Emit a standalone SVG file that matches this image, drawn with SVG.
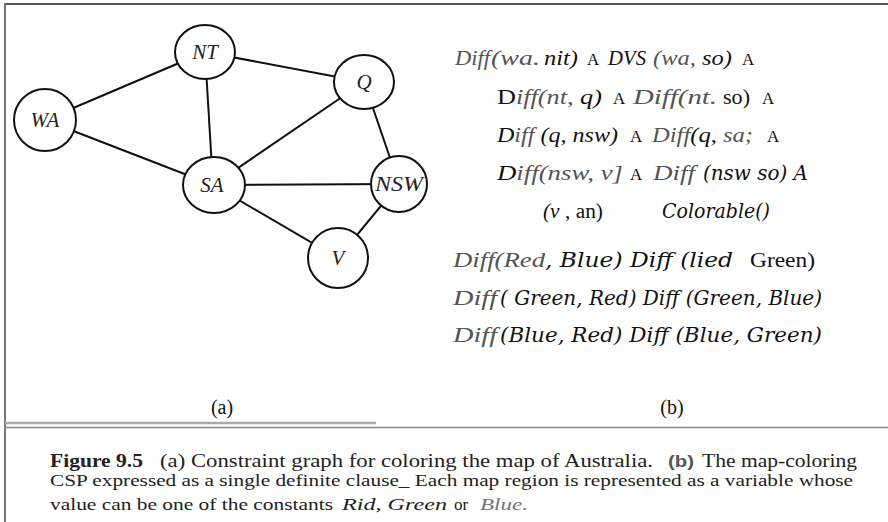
<svg xmlns="http://www.w3.org/2000/svg" width="888" height="522" viewBox="0 0 888 522">
<style>
.edge{stroke:#111;stroke-width:2;fill:none}
.node ellipse{fill:#fff;stroke:#111;stroke-width:2}
.lbl{font-family:"Liberation Serif",serif;font-style:italic;font-size:21px;fill:#222;text-anchor:middle}
.s{font-family:"Liberation Serif",serif;fill:#111}
.i{font-style:italic}
.g{fill:#555}
.w{font-family:"DejaVu Serif","Liberation Serif",serif;font-style:italic;fill:#111}
.f20{font-size:20px}
.f21{font-size:21px}
.f17{font-size:17px}
.cap{font-family:"Liberation Serif",serif;fill:#222}
</style>
<rect width="888" height="522" fill="#fff"/>
<g id="frame">
<line x1="5" y1="4" x2="888" y2="4" stroke="#555" stroke-width="2"/>
<line x1="5" y1="3" x2="5" y2="522" stroke="#777" stroke-width="2"/>
<line x1="5" y1="423" x2="376" y2="423" stroke="#aaa" stroke-width="2.5"/>
<line x1="5" y1="427.5" x2="888" y2="427.5" stroke="#888" stroke-width="1.5"/>
</g>
<g id="connectors">
<line class="edge" x1="45" y1="120" x2="205" y2="52"/>
<line class="edge" x1="45" y1="120" x2="213" y2="185"/>
<line class="edge" x1="205" y1="52" x2="213" y2="185"/>
<line class="edge" x1="205" y1="52" x2="364" y2="82"/>
<line class="edge" x1="213" y1="185" x2="364" y2="82"/>
<line class="edge" x1="213" y1="185" x2="399" y2="184"/>
<line class="edge" x1="213" y1="185" x2="338" y2="258"/>
<line class="edge" x1="364" y1="82" x2="399" y2="184"/>
<line class="edge" x1="399" y1="184" x2="338" y2="258"/>
</g>
<g id="node-NT" class="node"><ellipse cx="205" cy="52" rx="30" ry="27"/><text class="lbl" x="205" y="59">NT</text></g>
<g id="node-Q" class="node"><ellipse cx="364" cy="82" rx="30" ry="27"/><text class="lbl" x="364" y="89">Q</text></g>
<g id="node-WA" class="node"><ellipse cx="45" cy="120" rx="31" ry="31"/><text class="lbl" x="45" y="127">WA</text></g>
<g id="node-SA" class="node"><ellipse cx="214" cy="185" rx="31" ry="28"/><text class="lbl" x="212" y="192">SA</text></g>
<g id="node-NSW" class="node"><ellipse cx="399" cy="184" rx="28" ry="28"/><text class="lbl" x="399" y="191" textLength="48" lengthAdjust="spacingAndGlyphs" style="font-size:20px">NSW</text></g>
<g id="node-V" class="node"><ellipse cx="338" cy="258" rx="30" ry="30"/><text class="lbl" x="338" y="265">V</text></g>

<g id="clause">
<text class="s i g f21" x="455" y="65" textLength="35" lengthAdjust="spacingAndGlyphs">Diff</text>
<text class="s i g f21" x="491" y="65" textLength="49" lengthAdjust="spacingAndGlyphs">(wa.</text>
<text class="s i f20" x="544" y="65" textLength="34" lengthAdjust="spacingAndGlyphs">nit)</text>
<text class="s f17" x="587" y="65">A</text>
<text class="s i f21" x="608" y="65" textLength="38" lengthAdjust="spacingAndGlyphs">DVS</text>
<text class="s i f21" x="653" y="65" textLength="79" lengthAdjust="spacingAndGlyphs"><tspan class="g">(wa,</tspan> so)</text>
<text class="s f17" x="742" y="65">A</text>

<text class="s f21" x="497" y="104" textLength="105" lengthAdjust="spacingAndGlyphs">D<tspan class="i g">iff(nt,</tspan><tspan class="i"> q)</tspan></text>
<text class="s f17" x="613" y="104">A</text>
<text class="s i g f21" x="633" y="104" textLength="84" lengthAdjust="spacingAndGlyphs">Diff(nt.</text>
<text class="s f20" x="723" y="104" textLength="27" lengthAdjust="spacingAndGlyphs">so)</text>
<text class="s f17" x="762" y="104">A</text>

<text class="s i f21" x="497" y="142" textLength="121" lengthAdjust="spacingAndGlyphs">D<tspan class="g">iff</tspan> (q, nsw)</text>
<text class="s f17" x="630" y="142">A</text>
<text class="s i f21" x="652" y="142" textLength="101" lengthAdjust="spacingAndGlyphs"><tspan class="g">Diff</tspan>(q, <tspan class="g">sa;</tspan></text>
<text class="s f17" x="767" y="142">A</text>

<text class="s i f21" x="497" y="180" textLength="126" lengthAdjust="spacingAndGlyphs">D<tspan class="g">iff(nsw, v]</tspan></text>
<text class="s f17" x="630" y="180">A</text>
<text class="s i g f21" x="653" y="180" textLength="42" lengthAdjust="spacingAndGlyphs">Diff</text>
<text class="w f20" x="703" y="180" textLength="105" lengthAdjust="spacingAndGlyphs">(nsw so) A</text>

<text class="s f20" x="543" y="218" textLength="60" lengthAdjust="spacingAndGlyphs"><tspan class="i">(v</tspan> , an)</text>
<text class="w f20" x="662" y="218" textLength="108" lengthAdjust="spacingAndGlyphs">Colorable()</text>

<text class="s i g f21" x="453" y="267" textLength="92" lengthAdjust="spacingAndGlyphs">Diff(Red</text>
<text class="w f20" x="545" y="267" textLength="188" lengthAdjust="spacingAndGlyphs">, Blue) Diff (lied</text>
<text class="s f20" x="750" y="267" textLength="65" lengthAdjust="spacingAndGlyphs">Green)</text>

<text class="s i g f21" x="453" y="305" textLength="44" lengthAdjust="spacingAndGlyphs">Diff</text>
<text class="w f20" x="500" y="305" textLength="322" lengthAdjust="spacingAndGlyphs">( Green, Red) Diff (Green, Blue)</text>

<text class="s i g f21" x="453" y="342" textLength="44" lengthAdjust="spacingAndGlyphs">Diff</text>
<text class="w f20" x="500" y="342" textLength="322" lengthAdjust="spacingAndGlyphs">(Blue, Red) Diff (Blue, Green)</text>
</g>

<text class="s f20" x="222" y="414" text-anchor="middle">(a)</text>
<text class="s f20" x="672" y="414" text-anchor="middle">(b)</text>

<g id="caption">
<text class="cap" x="50" y="467" style="font-size:19px;font-weight:bold" textLength="93" lengthAdjust="spacingAndGlyphs">Figure 9.5</text>
<text class="cap" x="160" y="467" style="font-size:19px" textLength="493" lengthAdjust="spacingAndGlyphs">(a) Constraint graph for coloring the map of Australia.</text>
<text x="668" y="467" style="font-family:'Liberation Sans',sans-serif;font-size:16px;font-weight:bold;fill:#555" textLength="26" lengthAdjust="spacingAndGlyphs">(b)</text>
<text class="cap" x="702" y="467" style="font-size:19px" textLength="155" lengthAdjust="spacingAndGlyphs">The map-coloring</text>
<text class="cap" x="50" y="486" style="font-size:17px" textLength="803" lengthAdjust="spacingAndGlyphs">CSP expressed as a single definite clause_ Each map region is represented as a variable whose</text>
<text class="cap" x="50" y="510" style="font-size:17px" textLength="283" lengthAdjust="spacingAndGlyphs">value can be one of the constants</text>
<text class="cap" x="342" y="510" style="font-size:17px;font-style:italic" textLength="105" lengthAdjust="spacingAndGlyphs">Rid, Green</text>
<text class="cap" x="454" y="510" style="font-size:17px">or</text>
<text class="cap" x="480" y="510" style="font-size:17px;font-style:italic;fill:#777" textLength="48" lengthAdjust="spacingAndGlyphs">Blue.</text>
</g>
</svg>
